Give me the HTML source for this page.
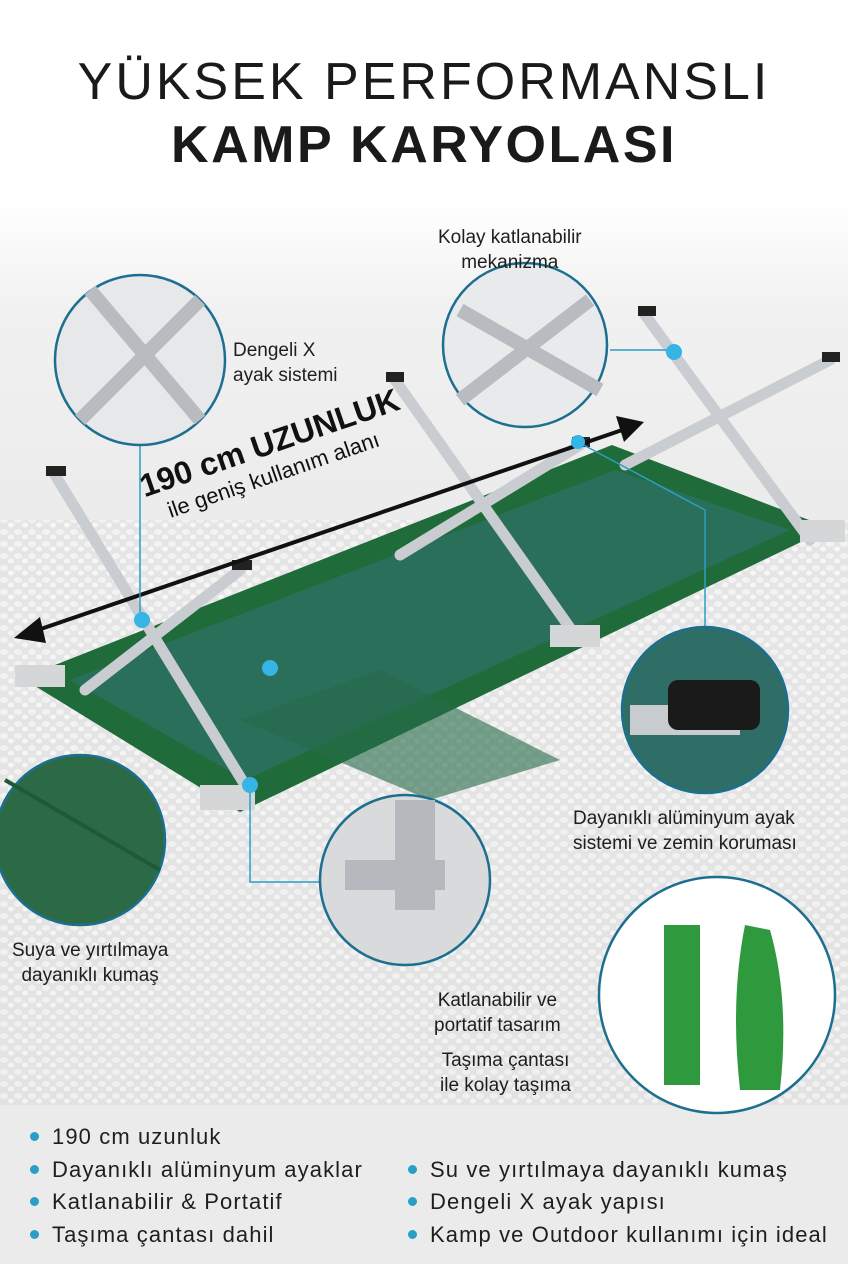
<!DOCTYPE html>
<html><head><meta charset="utf-8"><style>
html,body{margin:0;padding:0}
body{width:848px;height:1264px;position:relative;overflow:hidden;background:#fff;font-family:"Liberation Sans",sans-serif;color:#1a1a1a}
.t{position:absolute;left:0;width:848px;text-align:center}
.lab{position:absolute;font-size:19px;line-height:25px;color:#1e1e1e}
.b{position:absolute;font-size:22px;letter-spacing:1.1px;color:#1e1e1e;white-space:nowrap}
.b:before{content:"";position:absolute;left:-22px;top:8px;width:9px;height:9px;border-radius:50%;background:#2b9ec7}
</style></head><body>
<svg width="848" height="1264" style="position:absolute;left:0;top:0">
<defs>
<linearGradient id="g" x1="0" y1="0" x2="0" y2="1"><stop offset="0" stop-color="#fff"/><stop offset="0.12" stop-color="#f1f1f1"/><stop offset="1" stop-color="#dcdcdc"/></linearGradient>
<pattern id="p" width="14" height="12" patternUnits="userSpaceOnUse"><rect width="14" height="12" fill="#e4e4e4"/><ellipse cx="4" cy="4" rx="4" ry="3" fill="#f5f5f5"/><ellipse cx="11" cy="9" rx="3" ry="2.5" fill="#fafafa"/></pattern>
</defs>
<rect x="0" y="200" width="848" height="905" fill="url(#g)"/>
<rect x="0" y="520" width="848" height="585" fill="url(#p)" opacity="0.8"/>
<rect x="0" y="1105" width="848" height="159" fill="#ebebeb"/>
<!-- cot -->
<polygon points="22,678 240,812 830,528 612,445" fill="#1f6b3a"/>
<polygon points="70,680 245,780 790,530 615,470" fill="#2a6f5a"/>
<polygon points="240,720 380,670 560,760 430,800" fill="#276b4a" opacity=".6"/>
<g stroke="#c9ccd0" stroke-width="11" stroke-linecap="round">
<line x1="55" y1="475" x2="245" y2="785"/><line x1="240" y1="570" x2="85" y2="690"/>
<line x1="395" y1="380" x2="575" y2="635"/><line x1="580" y1="445" x2="400" y2="555"/>
<line x1="645" y1="315" x2="810" y2="540"/><line x1="830" y1="360" x2="625" y2="465"/>
</g>
<g fill="#222"><rect x="46" y="466" width="20" height="10"/><rect x="232" y="560" width="20" height="10"/><rect x="386" y="372" width="18" height="10"/><rect x="572" y="437" width="18" height="10"/><rect x="638" y="306" width="18" height="10"/><rect x="822" y="352" width="18" height="10"/></g>
<g fill="#d4d6d8"><rect x="200" y="785" width="55" height="25"/><rect x="15" y="665" width="50" height="22"/><rect x="550" y="625" width="50" height="22"/><rect x="800" y="520" width="45" height="22"/></g>
<!-- arrow -->
<line x1="32" y1="632" x2="628" y2="428" stroke="#111" stroke-width="4"/>
<polygon points="14,638 40,617 46,643" fill="#111"/>
<polygon points="644,422 616,416 624,442" fill="#111"/>
<!-- connectors -->
<g stroke="#2b9ec7" stroke-width="1.5" fill="none">
<line x1="140" y1="445" x2="140" y2="620"/>
<polyline points="250,785 250,882 322,882"/>
<polyline points="610,350 672,350"/>
<polyline points="578,442 705,510 705,628"/>
</g>
<g fill="#35b4e6"><circle cx="142" cy="620" r="8"/><circle cx="270" cy="668" r="8"/><circle cx="250" cy="785" r="8"/><circle cx="674" cy="352" r="8"/><circle cx="578" cy="442" r="7"/></g>
<!-- circles -->
<g stroke="#1d6f8f" stroke-width="2.5">
<circle cx="140" cy="360" r="85" fill="#e6e8ea"/>
<circle cx="525" cy="345" r="82" fill="#e9eaec"/>
<circle cx="705" cy="710" r="83" fill="#2f6e66"/>
<circle cx="80" cy="840" r="85" fill="#2b6a45"/>
<circle cx="405" cy="880" r="85" fill="#d8dadc"/>
<circle cx="717" cy="995" r="118" fill="#fff"/>
</g>
<g stroke="#b8bcc0" stroke-width="14"><line x1="90" y1="290" x2="200" y2="420"/><line x1="200" y1="300" x2="80" y2="420"/><line x1="460" y1="310" x2="600" y2="390"/><line x1="590" y1="300" x2="460" y2="400"/></g>
<rect x="630" y="705" width="110" height="30" fill="#c8cccf"/><rect x="668" y="680" width="92" height="50" rx="10" fill="#1a1a1a"/>
<rect x="395" y="800" width="40" height="110" fill="#b5b9bd"/><rect x="345" y="860" width="100" height="30" fill="#b5b9bd"/>
<path d="M5 780 L160 870" stroke="#1f5a38" stroke-width="4"/>
<rect x="664" y="925" width="36" height="160" fill="#2f9a3d"/><path d="M745 925 L770 930 Q790 1000 780 1090 L740 1090 Q730 1000 745 925Z" fill="#2f9a3d"/>
</svg>
<div class="t" style="top:52px;font-size:52px;letter-spacing:3px">YÜKSEK PERFORMANSLI</div>
<div class="t" style="top:115px;font-size:52px;font-weight:bold;letter-spacing:2.5px">KAMP KARYOLASI</div>
<div class="lab" style="left:233px;top:338px">Dengeli X<br>ayak sistemi</div>
<div class="lab" style="left:438px;top:225px;text-align:center">Kolay katlanabilir<br>mekanizma</div>
<div style="position:absolute;left:135px;top:470px;transform:rotate(-19deg);transform-origin:0 0">
<div style="font-size:32px;font-weight:bold;color:#111;white-space:nowrap">190 cm UZUNLUK</div>
<div style="font-size:22px;color:#111;margin-left:18px;white-space:nowrap">ile geniş kullanım alanı</div></div>
<div class="lab" style="left:573px;top:806px">Dayanıklı alüminyum ayak<br>sistemi ve zemin koruması</div>
<div class="lab" style="left:12px;top:938px;text-align:center">Suya ve yırtılmaya<br>dayanıklı kumaş</div>
<div class="lab" style="left:434px;top:988px;text-align:center">Katlanabilir ve<br>portatif tasarım</div>
<div class="lab" style="left:440px;top:1048px;text-align:center">Taşıma çantası<br>ile kolay taşıma</div>
<div class="b" style="left:52px;top:1124px">190 cm uzunluk</div>
<div class="b" style="left:52px;top:1157px">Dayanıklı alüminyum ayaklar</div>
<div class="b" style="left:52px;top:1189px">Katlanabilir &amp; Portatif</div>
<div class="b" style="left:52px;top:1222px">Taşıma çantası dahil</div>
<div class="b" style="left:430px;top:1157px">Su ve yırtılmaya dayanıklı kumaş</div>
<div class="b" style="left:430px;top:1189px">Dengeli X ayak yapısı</div>
<div class="b" style="left:430px;top:1222px">Kamp ve Outdoor kullanımı için ideal</div>
</body></html>
